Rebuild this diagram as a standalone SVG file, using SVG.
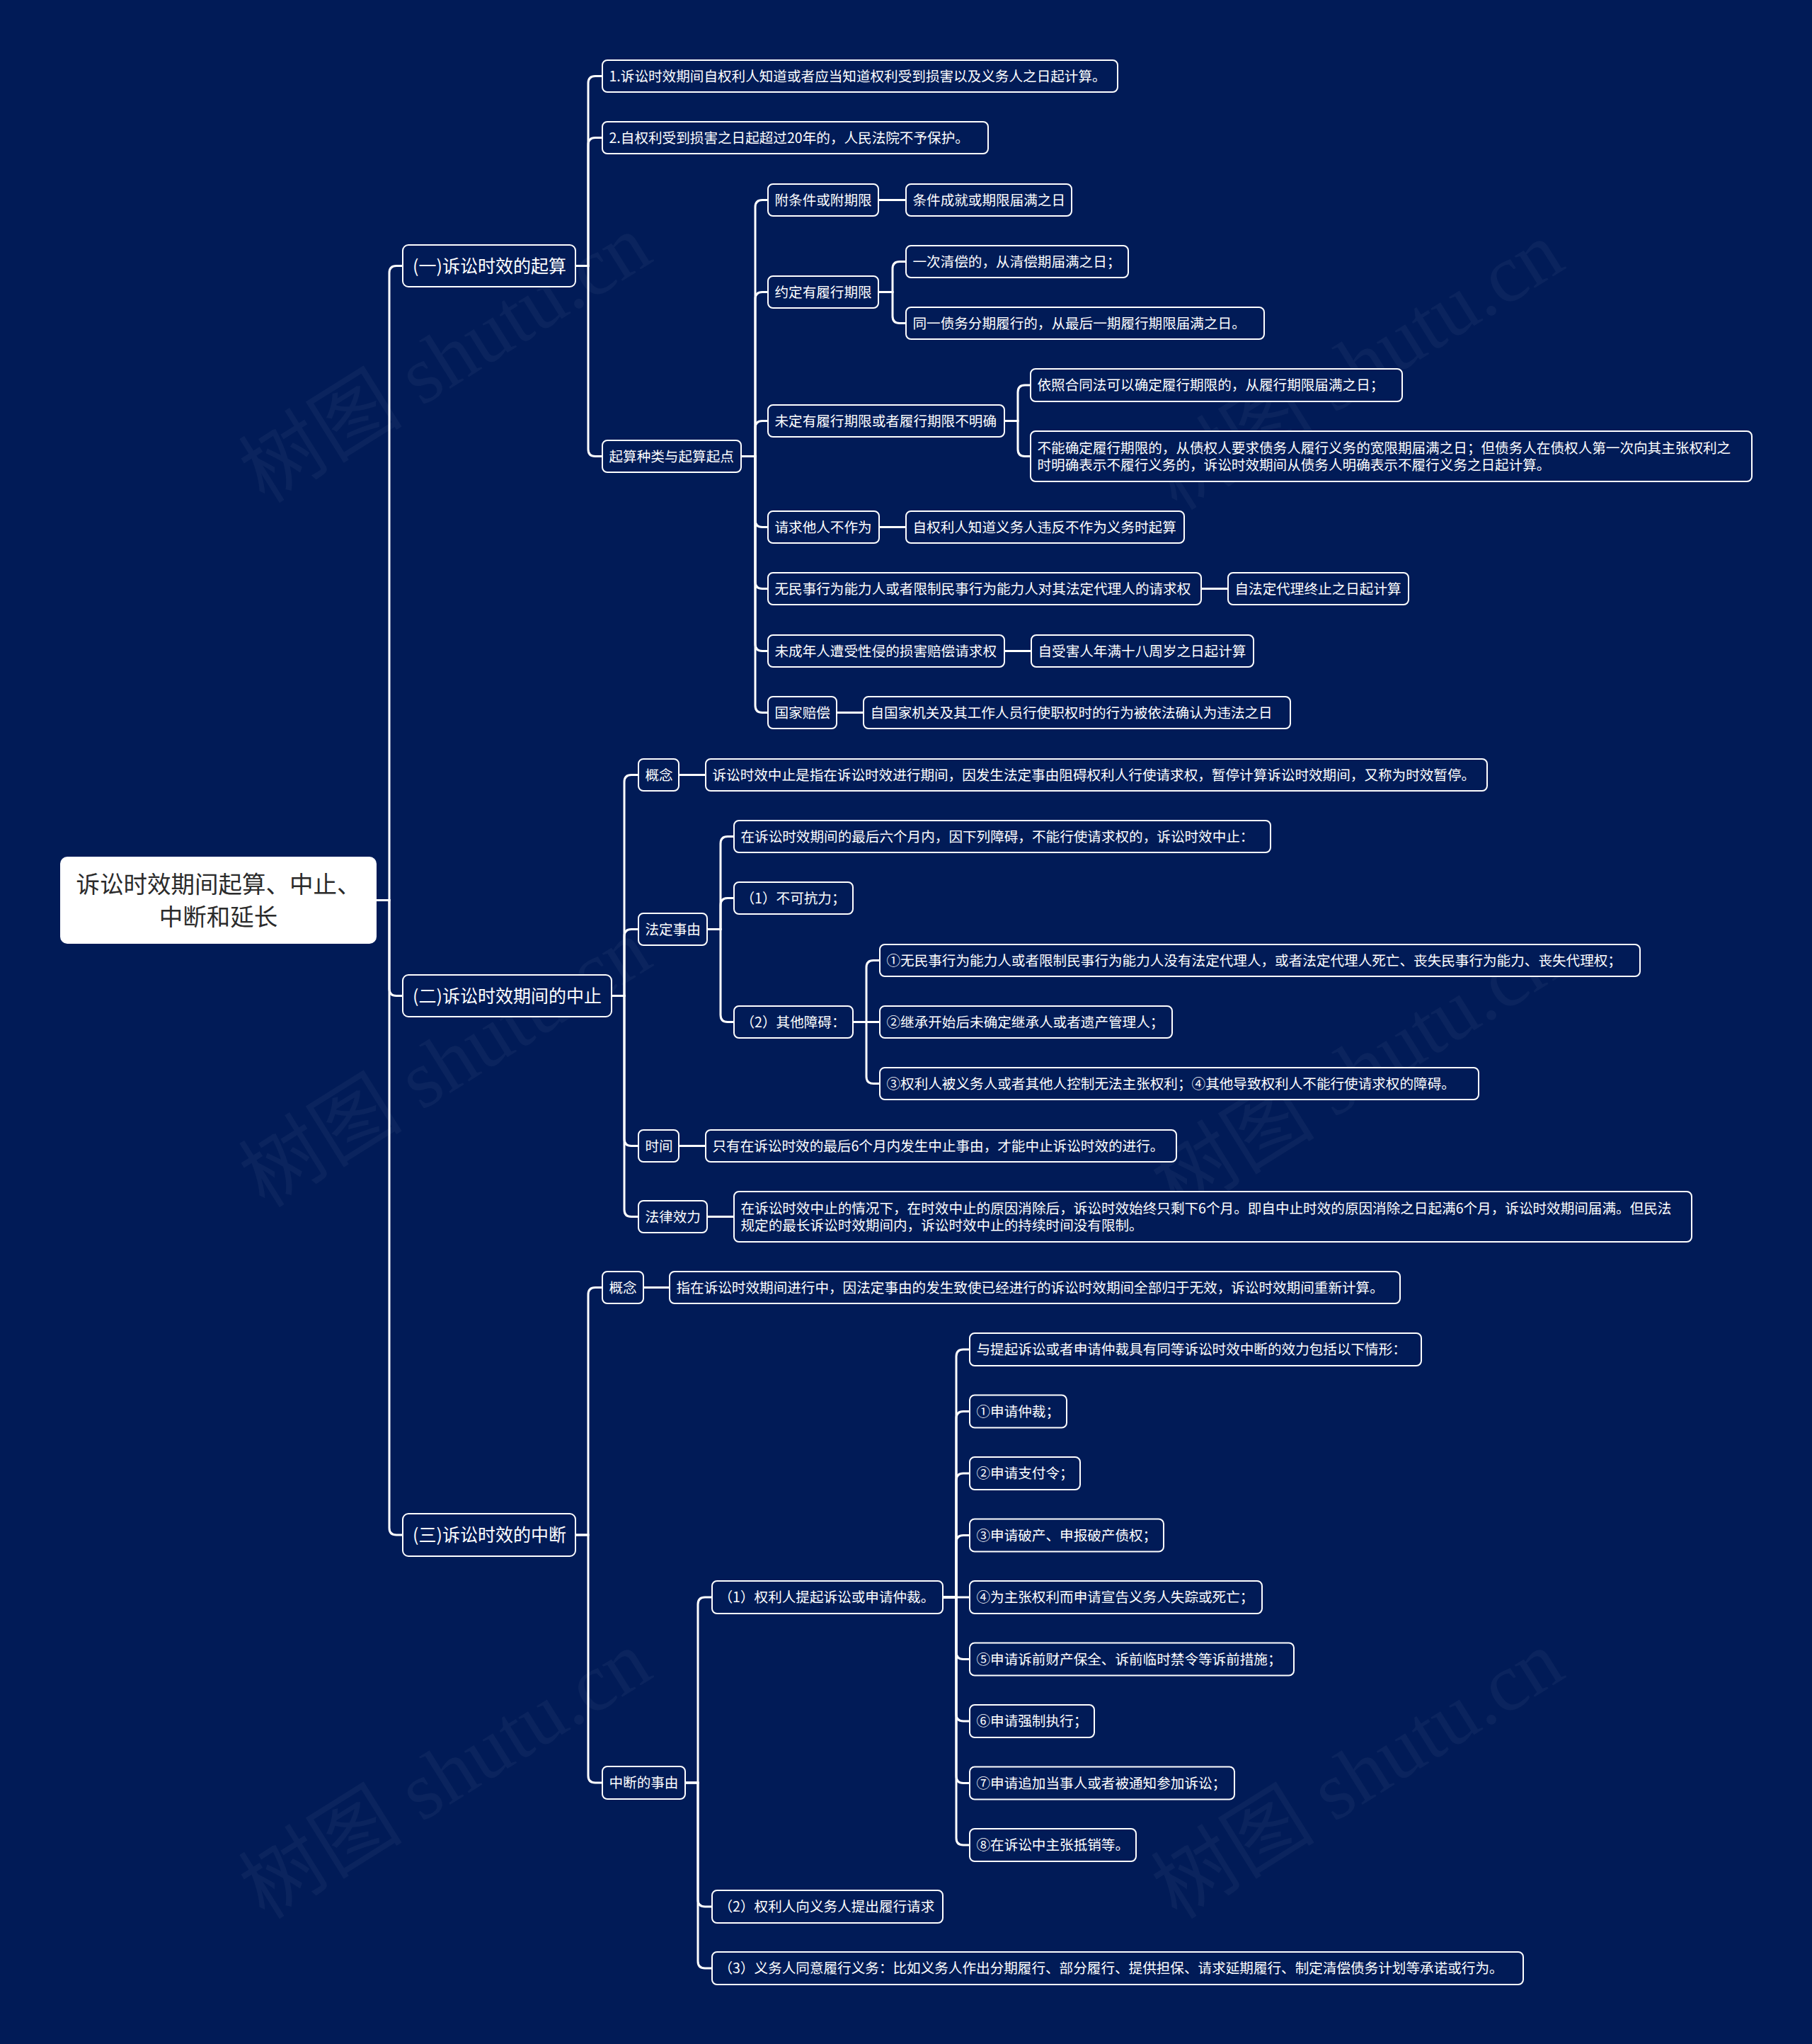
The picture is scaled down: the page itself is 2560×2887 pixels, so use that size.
<svg xmlns="http://www.w3.org/2000/svg" width="2560" height="2887" viewBox="0 0 2560 2887">
<style>
.bg{fill:#011b57}
.n rect{fill:#011b57;stroke:#ffffff;stroke-width:2}
.n text{font-family:"Noto Sans CJK SC","Microsoft YaHei",sans-serif;fill:#ffffff;font-size:19.6px}
.l1 text{font-size:25px}
.root rect{fill:#ffffff;stroke:none}
.root text{fill:#2b2b2b;font-size:33.5px;text-anchor:middle}
.wm{font-family:"Liberation Serif","Noto Sans CJK SC",serif;font-size:116px;fill:#ffffff;fill-opacity:0.045;text-anchor:middle}
#connectors path{fill:none;stroke:#ffffff;stroke-width:3}
</style>
<rect class="bg" x="0" y="0" width="2560" height="2887"/>
<g id="watermarks">
<text class="wm" transform="translate(650,540) rotate(-32)">树图 shutu.cn</text>
<text class="wm" transform="translate(1939,550) rotate(-32)">树图 shutu.cn</text>
<text class="wm" transform="translate(650,1535) rotate(-32)">树图 shutu.cn</text>
<text class="wm" transform="translate(1939,1545) rotate(-32)">树图 shutu.cn</text>
<text class="wm" transform="translate(650,2540) rotate(-32)">树图 shutu.cn</text>
<text class="wm" transform="translate(1939,2540) rotate(-32)">树图 shutu.cn</text>
</g>
<g id="connectors">
<path d="M532 1271.5 H550 V385.5 Q550 375.5 560 375.5 H569"/>
<path d="M532 1271.5 H550 V1396.5 Q550 1406.5 560 1406.5 H569"/>
<path d="M532 1271.5 H550 V2158 Q550 2168 560 2168 H569"/>
<path d="M813 375.5 H831 V117.5 Q831 107.5 841 107.5 H851"/>
<path d="M813 375.5 H831 V204.5 Q831 194.5 841 194.5 H851"/>
<path d="M813 375.5 H831 V634.5 Q831 644.5 841 644.5 H851"/>
<path d="M1047 644.5 H1067 V292.5 Q1067 282.5 1077 282.5 H1085"/>
<path d="M1047 644.5 H1067 V422.5 Q1067 412.5 1077 412.5 H1085"/>
<path d="M1047 644.5 H1067 V604.5 Q1067 594.5 1077 594.5 H1085"/>
<path d="M1047 644.5 H1067 V734.5 Q1067 744.5 1077 744.5 H1085"/>
<path d="M1047 644.5 H1067 V821.5 Q1067 831.5 1077 831.5 H1085"/>
<path d="M1047 644.5 H1067 V909.5 Q1067 919.5 1077 919.5 H1085"/>
<path d="M1047 644.5 H1067 V996.5 Q1067 1006.5 1077 1006.5 H1085"/>
<path d="M1241 282.5 H1280"/>
<path d="M1241 412.5 H1261 V379.5 Q1261 369.5 1271 369.5 H1280"/>
<path d="M1241 412.5 H1261 V446.5 Q1261 456.5 1271 456.5 H1280"/>
<path d="M1419 594.5 H1438 V554 Q1438 544 1448 544 H1456"/>
<path d="M1419 594.5 H1438 V634.5 Q1438 644.5 1448 644.5 H1456"/>
<path d="M1242 744.5 H1280"/>
<path d="M1697 831.5 H1735"/>
<path d="M1419 919.5 H1457"/>
<path d="M1182 1006.5 H1220"/>
<path d="M864 1406.5 H882 V1104.5 Q882 1094.5 892 1094.5 H902"/>
<path d="M864 1406.5 H882 V1322.5 Q882 1312.5 892 1312.5 H902"/>
<path d="M864 1406.5 H882 V1608.5 Q882 1618.5 892 1618.5 H902"/>
<path d="M864 1406.5 H882 V1708.5 Q882 1718.5 892 1718.5 H902"/>
<path d="M959 1094.5 H997"/>
<path d="M999 1312.5 H1018 V1191.5 Q1018 1181.5 1028 1181.5 H1037"/>
<path d="M999 1312.5 H1018 V1278.5 Q1018 1268.5 1028 1268.5 H1037"/>
<path d="M999 1312.5 H1018 V1433.5 Q1018 1443.5 1028 1443.5 H1037"/>
<path d="M1205 1443.5 H1224 V1366.5 Q1224 1356.5 1234 1356.5 H1243"/>
<path d="M1205 1443.5 H1243"/>
<path d="M1205 1443.5 H1224 V1520.5 Q1224 1530.5 1234 1530.5 H1243"/>
<path d="M959 1618.5 H997"/>
<path d="M999 1718.5 H1037"/>
<path d="M813 2168 H831 V1828.5 Q831 1818.5 841 1818.5 H851"/>
<path d="M813 2168 H831 V2508 Q831 2518 841 2518 H851"/>
<path d="M909 1818.5 H946"/>
<path d="M968 2518 H986 V2266 Q986 2256 996 2256 H1006"/>
<path d="M968 2518 H986 V2683 Q986 2693 996 2693 H1006"/>
<path d="M968 2518 H986 V2770 Q986 2780 996 2780 H1006"/>
<path d="M1332 2256 H1351 V1916 Q1351 1906 1361 1906 H1370"/>
<path d="M1332 2256 H1351 V2003.5 Q1351 1993.5 1361 1993.5 H1370"/>
<path d="M1332 2256 H1351 V2091 Q1351 2081 1361 2081 H1370"/>
<path d="M1332 2256 H1351 V2178.5 Q1351 2168.5 1361 2168.5 H1370"/>
<path d="M1332 2256 H1370"/>
<path d="M1332 2256 H1351 V2333.5 Q1351 2343.5 1361 2343.5 H1370"/>
<path d="M1332 2256 H1351 V2421 Q1351 2431 1361 2431 H1370"/>
<path d="M1332 2256 H1351 V2508.5 Q1351 2518.5 1361 2518.5 H1370"/>
<path d="M1332 2256 H1351 V2596 Q1351 2606 1361 2606 H1370"/>
</g>
<g id="root" class="n root"><rect x="85" y="1210" width="447" height="123" rx="10"/><text x="308.5" y="1260.5">诉讼时效期间起算、中止、</text><text x="308.5" y="1306.5">中断和延长</text></g>
<g id="n1" class="n l1"><rect x="569" y="346" width="244" height="59" rx="8"/><text x="583" y="384.5">(一)诉讼时效的起算</text></g>
<g id="n2" class="n l1"><rect x="569" y="1377" width="295" height="59" rx="8"/><text x="583" y="1415.5">(二)诉讼时效期间的中止</text></g>
<g id="n3" class="n l1"><rect x="569" y="2138" width="244" height="60" rx="8"/><text x="583" y="2177">(三)诉讼时效的中断</text></g>
<g id="n1a" class="n"><rect x="851" y="85" width="728" height="45" rx="7"/><text x="860.5" y="114.5">1.诉讼时效期间自权利人知道或者应当知道权利受到损害以及义务人之日起计算。</text></g>
<g id="n1b" class="n"><rect x="851" y="172" width="545" height="45" rx="7"/><text x="860.5" y="201.5">2.自权利受到损害之日起超过20年的，人民法院不予保护。</text></g>
<g id="n1c" class="n"><rect x="851" y="622" width="196" height="45" rx="7"/><text x="860.5" y="651.5">起算种类与起算起点</text></g>
<g id="n1c1" class="n"><rect x="1085" y="260" width="156" height="45" rx="7"/><text x="1094.5" y="289.5">附条件或附期限</text></g>
<g id="n1c1a" class="n"><rect x="1280" y="260" width="234" height="45" rx="7"/><text x="1289.5" y="289.5">条件成就或期限届满之日</text></g>
<g id="n1c2" class="n"><rect x="1085" y="390" width="156" height="45" rx="7"/><text x="1094.5" y="419.5">约定有履行期限</text></g>
<g id="n1c2a" class="n"><rect x="1280" y="347" width="314" height="45" rx="7"/><text x="1289.5" y="376.5">一次清偿的，从清偿期届满之日；</text></g>
<g id="n1c2b" class="n"><rect x="1280" y="434" width="506" height="45" rx="7"/><text x="1289.5" y="463.5">同一债务分期履行的，从最后一期履行期限届满之日。</text></g>
<g id="n1c3" class="n"><rect x="1085" y="572" width="334" height="45" rx="7"/><text x="1094.5" y="601.5">未定有履行期限或者履行期限不明确</text></g>
<g id="n1c3a" class="n"><rect x="1456" y="521" width="525" height="46" rx="7"/><text x="1465.5" y="551">依照合同法可以确定履行期限的，从履行期限届满之日；</text></g>
<g id="n1c3b" class="n"><rect x="1456" y="609" width="1019" height="71" rx="7"/><text x="1465.5" y="639.5">不能确定履行期限的，从债权人要求债务人履行义务的宽限期届满之日；但债务人在债权人第一次向其主张权利之</text><text x="1465.5" y="664">时明确表示不履行义务的，诉讼时效期间从债务人明确表示不履行义务之日起计算。</text></g>
<g id="n1c4" class="n"><rect x="1085" y="722" width="157" height="45" rx="7"/><text x="1094.5" y="751.5">请求他人不作为</text></g>
<g id="n1c4a" class="n"><rect x="1280" y="722" width="393" height="45" rx="7"/><text x="1289.5" y="751.5">自权利人知道义务人违反不作为义务时起算</text></g>
<g id="n1c5" class="n"><rect x="1085" y="809" width="612" height="45" rx="7"/><text x="1094.5" y="838.5">无民事行为能力人或者限制民事行为能力人对其法定代理人的请求权</text></g>
<g id="n1c5a" class="n"><rect x="1735" y="809" width="255" height="45" rx="7"/><text x="1744.5" y="838.5">自法定代理终止之日起计算</text></g>
<g id="n1c6" class="n"><rect x="1085" y="897" width="334" height="45" rx="7"/><text x="1094.5" y="926.5">未成年人遭受性侵的损害赔偿请求权</text></g>
<g id="n1c6a" class="n"><rect x="1457" y="897" width="314" height="45" rx="7"/><text x="1466.5" y="926.5">自受害人年满十八周岁之日起计算</text></g>
<g id="n1c7" class="n"><rect x="1085" y="984" width="97" height="45" rx="7"/><text x="1094.5" y="1013.5">国家赔偿</text></g>
<g id="n1c7a" class="n"><rect x="1220" y="984" width="603" height="45" rx="7"/><text x="1229.5" y="1013.5">自国家机关及其工作人员行使职权时的行为被依法确认为违法之日</text></g>
<g id="n2a" class="n"><rect x="902" y="1072" width="57" height="45" rx="7"/><text x="911.5" y="1101.5">概念</text></g>
<g id="n2a1" class="n"><rect x="997" y="1072" width="1104" height="45" rx="7"/><text x="1006.5" y="1101.5">诉讼时效中止是指在诉讼时效进行期间，因发生法定事由阻碍权利人行使请求权，暂停计算诉讼时效期间，又称为时效暂停。</text></g>
<g id="n2b" class="n"><rect x="902" y="1290" width="97" height="45" rx="7"/><text x="911.5" y="1319.5">法定事由</text></g>
<g id="n2b1" class="n"><rect x="1037" y="1159" width="758" height="45" rx="7"/><text x="1046.5" y="1188.5">在诉讼时效期间的最后六个月内，因下列障碍，不能行使请求权的，诉讼时效中止：</text></g>
<g id="n2b2" class="n"><rect x="1037" y="1246" width="168" height="45" rx="7"/><text x="1046.5" y="1275.5">（1）不可抗力；</text></g>
<g id="n2b3" class="n"><rect x="1037" y="1421" width="168" height="45" rx="7"/><text x="1046.5" y="1450.5">（2）其他障碍：</text></g>
<g id="n2b3a" class="n"><rect x="1243" y="1334" width="1074" height="45" rx="7"/><text x="1252.5" y="1363.5">①无民事行为能力人或者限制民事行为能力人没有法定代理人，或者法定代理人死亡、丧失民事行为能力、丧失代理权；</text></g>
<g id="n2b3b" class="n"><rect x="1243" y="1421" width="413" height="45" rx="7"/><text x="1252.5" y="1450.5">②继承开始后未确定继承人或者遗产管理人；</text></g>
<g id="n2b3c" class="n"><rect x="1243" y="1508" width="846" height="45" rx="7"/><text x="1252.5" y="1537.5">③权利人被义务人或者其他人控制无法主张权利；④其他导致权利人不能行使请求权的障碍。</text></g>
<g id="n2c" class="n"><rect x="902" y="1596" width="57" height="45" rx="7"/><text x="911.5" y="1625.5">时间</text></g>
<g id="n2c1" class="n"><rect x="997" y="1596" width="665" height="45" rx="7"/><text x="1006.5" y="1625.5">只有在诉讼时效的最后6个月内发生中止事由，才能中止诉讼时效的进行。</text></g>
<g id="n2d" class="n"><rect x="902" y="1696" width="97" height="45" rx="7"/><text x="911.5" y="1725.5">法律效力</text></g>
<g id="n2d1" class="n"><rect x="1037" y="1683" width="1353" height="71" rx="7"/><text x="1046.5" y="1713.5">在诉讼时效中止的情况下，在时效中止的原因消除后，诉讼时效始终只剩下6个月。即自中止时效的原因消除之日起满6个月，诉讼时效期间届满。但民法</text><text x="1046.5" y="1738">规定的最长诉讼时效期间内，诉讼时效中止的持续时间没有限制。</text></g>
<g id="n3a" class="n"><rect x="851" y="1796" width="58" height="45" rx="7"/><text x="860.5" y="1825.5">概念</text></g>
<g id="n3a1" class="n"><rect x="946" y="1796" width="1032" height="45" rx="7"/><text x="955.5" y="1825.5">指在诉讼时效期间进行中，因法定事由的发生致使已经进行的诉讼时效期间全部归于无效，诉讼时效期间重新计算。</text></g>
<g id="n3b" class="n"><rect x="851" y="2495" width="117" height="46" rx="7"/><text x="860.5" y="2525">中断的事由</text></g>
<g id="n3b1" class="n"><rect x="1006" y="2233" width="326" height="46" rx="7"/><text x="1015.5" y="2263">（1）权利人提起诉讼或申请仲裁。</text></g>
<g id="n3b1a" class="n"><rect x="1370" y="1883" width="638" height="46" rx="7"/><text x="1379.5" y="1913">与提起诉讼或者申请仲裁具有同等诉讼时效中断的效力包括以下情形：</text></g>
<g id="n3b1b" class="n"><rect x="1370" y="1970.5" width="137" height="46" rx="7"/><text x="1379.5" y="2000.5">①申请仲裁；</text></g>
<g id="n3b1c" class="n"><rect x="1370" y="2058" width="156" height="46" rx="7"/><text x="1379.5" y="2088">②申请支付令；</text></g>
<g id="n3b1d" class="n"><rect x="1370" y="2145.5" width="274" height="46" rx="7"/><text x="1379.5" y="2175.5">③申请破产、申报破产债权；</text></g>
<g id="n3b1e" class="n"><rect x="1370" y="2233" width="413" height="46" rx="7"/><text x="1379.5" y="2263">④为主张权利而申请宣告义务人失踪或死亡；</text></g>
<g id="n3b1f" class="n"><rect x="1370" y="2320.5" width="458" height="46" rx="7"/><text x="1379.5" y="2350.5">⑤申请诉前财产保全、诉前临时禁令等诉前措施；</text></g>
<g id="n3b1g" class="n"><rect x="1370" y="2408" width="176" height="46" rx="7"/><text x="1379.5" y="2438">⑥申请强制执行；</text></g>
<g id="n3b1h" class="n"><rect x="1370" y="2495.5" width="374" height="46" rx="7"/><text x="1379.5" y="2525.5">⑦申请追加当事人或者被通知参加诉讼；</text></g>
<g id="n3b1i" class="n"><rect x="1370" y="2583" width="235" height="46" rx="7"/><text x="1379.5" y="2613">⑧在诉讼中主张抵销等。</text></g>
<g id="n3b2" class="n"><rect x="1006" y="2670" width="326" height="46" rx="7"/><text x="1015.5" y="2700">（2）权利人向义务人提出履行请求</text></g>
<g id="n3b3" class="n"><rect x="1006" y="2757" width="1146" height="46" rx="7"/><text x="1015.5" y="2787">（3）义务人同意履行义务：比如义务人作出分期履行、部分履行、提供担保、请求延期履行、制定清偿债务计划等承诺或行为。</text></g>
</svg>
